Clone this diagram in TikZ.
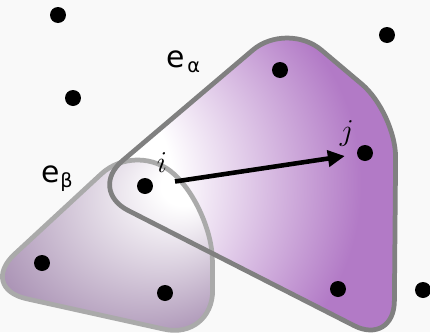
\documentclass[tikz,border=0pt]{standalone}
\usepackage{fontspec}
\newfontfamily\labelfont{DejaVu Sans}
\usetikzlibrary{arrows.meta}
\definecolor{paper}{HTML}{F9F9F9}
\definecolor{hullpurple}{HTML}{B27AC6}
\definecolor{hulldark}{HTML}{977AA4}
\definecolor{alphaline}{HTML}{808080}
\definecolor{betaline}{HTML}{AAAAAA}
\pgfdeclareradialshading{alphashade}{\pgfpoint{-40bp}{0bp}}{color(0bp)=(white); color(16bp)=(white); color(33bp)=(hullpurple); color(50bp)=(hullpurple)}
\pgfdeclareradialshading{betashade}{\pgfpoint{21bp}{15bp}}{color(0bp)=(white); color(5bp)=(white); color(38bp)=(hulldark); color(50bp)=(hulldark)}

\begin{document}
\begin{tikzpicture}[x=0.02cm,y=-0.02cm,
  dot/.style={circle,fill=black,inner sep=0pt,minimum size=0.32cm},
  hull/.style={line width=2.7pt,line join=round},
  lbl/.style={font=\labelfont\fontsize{17}{20}\selectfont,inner sep=0pt,anchor=base west},
  sub/.style={font=\labelfont\fontsize{11}{13}\selectfont,inner sep=0pt,anchor=base west},
  vlbl/.style={font=\fontsize{17}{20}\selectfont,inner sep=0pt,anchor=base},
  arr/.style={-{Triangle[length=0.34cm,width=0.32cm]},line width=2.6pt}]
\fill[paper] (0,0) rectangle (430,332);
\useasboundingbox (0,0) rectangle (430,332);

\coordinate (a1) at (88,190);
\coordinate (a2) at (287,21);
\coordinate (a3) at (396,113);
\coordinate (a4) at (394,346);
\coordinate (b1) at (-22,288);
\coordinate (b2) at (138,140);
\coordinate (b3) at (212,210);
\coordinate (b4) at (213,340);

\shade[hull,shading=alphashade,rounded corners=0.9cm] (a1) -- (a2) -- (a3) -- (a4) -- cycle;
\shade[hull,shading=betashade,rounded corners=1cm] (b1) -- (b2) -- (b3) -- (b4) -- cycle;
\draw[hull,betaline,rounded corners=1cm] (b1) -- (b2) -- (b3) -- (b4) -- cycle;
\draw[hull,alphaline,rounded corners=0.9cm] (a1) -- (a2) -- (a3) -- (a4) -- cycle;

\node[dot] (v1) at (58,15) {};
\node[dot] (v2) at (387,35) {};
\node[dot] (v3) at (73,98) {};
\node[dot] (v4) at (280,70) {};
\node[dot] (j) at (365,153) {};
\node[dot] (i) at (145,186) {};
\node[dot] (v5) at (42,263) {};
\node[dot] (v6) at (165,293) {};
\node[dot] (v7) at (338,289) {};
\node[dot] (v8) at (423,290) {};

\node[lbl] (ealpha) at (166,67) {e};
\node[sub] at (187,72) {α};
\node[lbl] (ebeta) at (41,182) {e};
\node[sub] at (60,187) {β};
\node[vlbl] (ilbl) at (162,172) {$i$};
\node[vlbl] (jlbl) at (347,140) {$j$};

\draw[arr,shorten <=0.44cm,shorten >=0.24cm] (i) -- (j);
\end{tikzpicture}
\end{document}
